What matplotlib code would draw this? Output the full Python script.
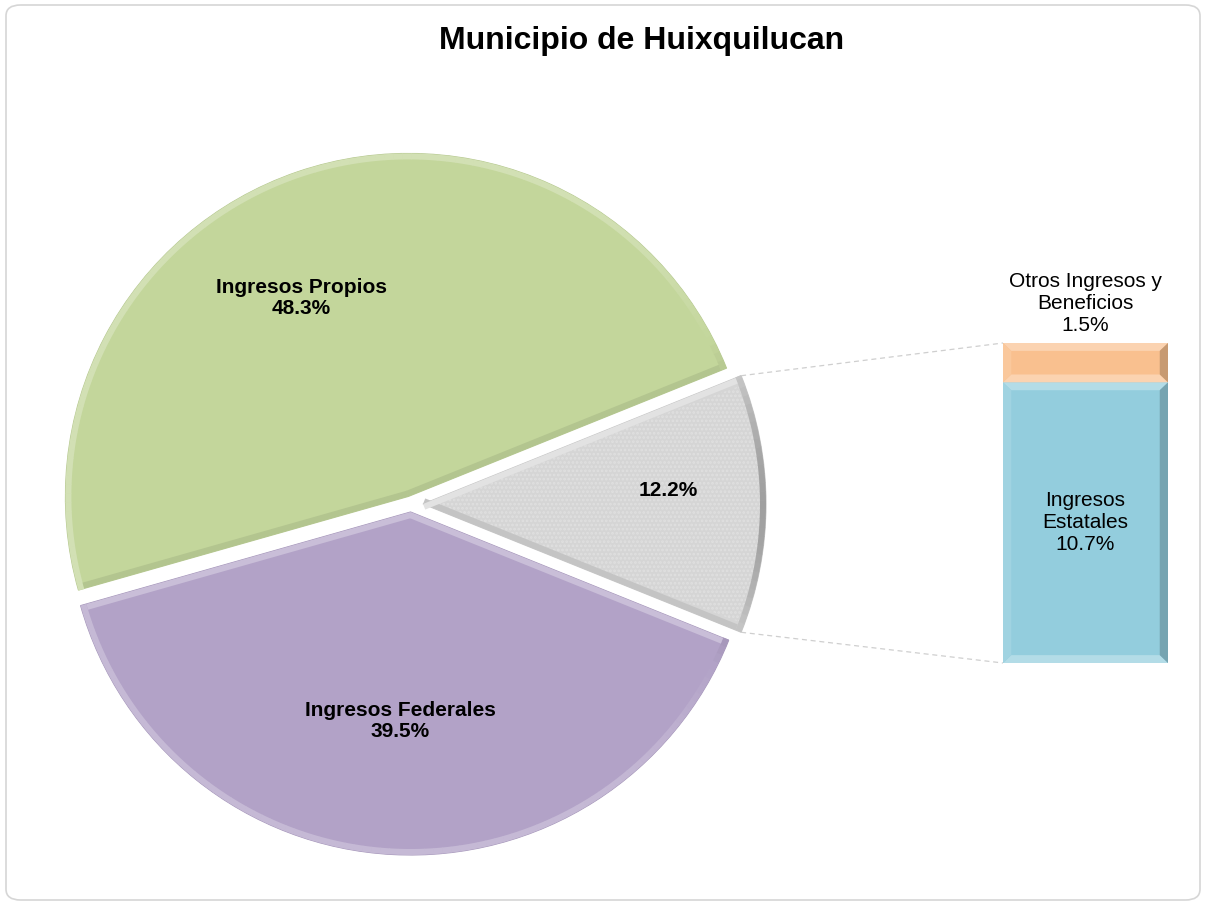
import numpy as np
import matplotlib
matplotlib.use("Agg")
import matplotlib.pyplot as plt
from matplotlib.colors import to_rgb
from matplotlib.patches import FancyBboxPatch, Polygon, Wedge

# ── Data ──────────────────────────────────────────────────────────────────────
title = "Municipio de Huixquilucan"
pie_labels = ["", "Ingresos Propios", "Ingresos Federales"]
pie_values = [12.2, 48.3, 39.5]
pie_colors = ["#D5D5D5", "#C3D69B", "#B2A2C7"]

bar_labels = ["Ingresos\nEstatales", "Otros Ingresos y\nBeneficios"]
bar_values = [10.7, 1.5]
bar_colors = ["#93CDDD", "#F9C08F"]

# ── Styling ───────────────────────────────────────────────────────────────────
plt.rcParams["font.family"] = ["Liberation Sans", "DejaVu Sans"]
plt.rcParams["hatch.linewidth"] = 1.3
FS = 15


def tint(c, k):
    r = np.array(to_rgb(c))
    return tuple(np.clip(r + (1 - r) * k, 0, 1)) if k > 0 else tuple(r * (1 + k))


def u(deg):
    return np.array([np.cos(np.radians(deg)), np.sin(np.radians(deg))])


def bevel_wedge(ax, w, c, d=6):
    """Light/dark rim along the arc and both straight edges."""
    cen = np.array(w.center)
    t1, t2 = w.theta1, w.theta2
    for a in np.arange(t1, t2, 1.5):
        b = min(a + 1.5, t2)
        cs = max(np.cos(np.radians((a + b) / 2)), 0)
        k = 0.25 - 0.5 * cs ** 6
        ax.add_patch(Wedge(cen, w.r, a, b + 0.1, width=d, fc=tint(c, k),
                           lw=0, zorder=3))
    for t, side in [(t1, 90), (t2, -90)]:
        n_in = u(t + side)
        k = 0.3 if -n_in[1] > 0 else -0.08
        p0, p1 = cen, cen + (w.r - d) * u(t)
        ax.add_patch(Polygon([p0, p1, p1 + d * n_in, p0 + d * n_in],
                             closed=True, fc=tint(c, k), lw=0, zorder=3))


W, H = 1206, 905
fig = plt.figure(figsize=(W / 100, H / 100), dpi=100)
fig.patch.set_facecolor("white")
fig.patches.append(FancyBboxPatch(
    (6 / W, 5 / H), (W - 12) / W, (H - 10) / H,
    boxstyle="round,pad=0,rounding_size=0.012", transform=fig.transFigure,
    fc="none", ec="#D6D6D6", lw=1.2, zorder=-1))

# ── Pie (data units = pixels) ─────────────────────────────────────────────────
ax = fig.add_axes([0, 0, 1, 1])
cx, cy, R = 411, H - 504, 343
start = -pie_values[0] / sum(pie_values) * 360 / 2
wedges, _ = ax.pie(pie_values, colors=pie_colors, startangle=start,
                   radius=R, center=(cx, cy), explode=[12, 8, 8],
                   wedgeprops=dict(lw=0.8))
for w, c in zip(wedges, pie_colors):
    w.set_edgecolor(tint(c, -0.06))
    bevel_wedge(ax, w, c)

g = wedges[0]
ax.add_patch(Wedge(g.center, g.r - 6, g.theta1 + 1.5, g.theta2 - 1.5, fc="none",
                   ec="#E0E0E0", lw=0, hatch="....", zorder=2))

ax.set_xlim(0, W)
ax.set_ylim(0, H)
ax.set_aspect("auto")
ax.axis("off")

ax.text(301, H - 298, f"{pie_labels[1]}\n{pie_values[1]:.1f}%", ha="center",
        va="center", fontsize=FS, fontweight="bold", linespacing=1.15, zorder=5)
ax.text(400, H - 721, f"{pie_labels[2]}\n{pie_values[2]:.1f}%", ha="center",
        va="center", fontsize=FS, fontweight="bold", linespacing=1.15, zorder=5)
ax.text(668, H - 491, f"{pie_values[0]:.1f}%", ha="center", va="center",
        fontsize=FS, fontweight="bold", zorder=5)

# ── Bar of pie ────────────────────────────────────────────────────────────────
bx = fig.add_axes([1003 / W, (H - 663) / H, 165 / W, 320 / H])
bx.set_xlim(-0.5, 0.5)
bx.set_ylim(0, sum(bar_values))
bx.axis("off")

bw, bh = 0.05, 0.3
bottom = 0
for v, c in zip(bar_values, bar_colors):
    bx.bar(0, v, width=1, bottom=bottom, color=c, lw=0)
    x0, x1, y0, y1 = -0.5, 0.5, bottom, bottom + v
    bevels = [
        ([(x0, y1), (x1, y1), (x1 - bw, y1 - bh), (x0 + bw, y1 - bh)], 0.3),
        ([(x0, y0), (x1, y0), (x1 - bw, y0 + bh), (x0 + bw, y0 + bh)], 0.3),
        ([(x0, y0), (x0, y1), (x0 + bw, y1 - bh), (x0 + bw, y0 + bh)], 0.12),
        ([(x1, y0), (x1, y1), (x1 - bw, y1 - bh), (x1 - bw, y0 + bh)], -0.2),
    ]
    for pts, k in bevels:
        bx.add_patch(Polygon(pts, closed=True, fc=tint(c, k), lw=0))
    bottom += v

bx.text(0, bar_values[0] / 2, f"{bar_labels[0]}\n{bar_values[0]:.1f}%",
        ha="center", va="center", fontsize=FS, linespacing=1.2)
bx.text(0, sum(bar_values) + 1.49, f"{bar_labels[1]}\n{bar_values[1]:.1f}%",
        ha="center", va="center", fontsize=FS, linespacing=1.2, clip_on=False)

# ── Connector lines ───────────────────────────────────────────────────────────
top_l = ax.transData.inverted().transform(bx.transData.transform((-0.5, sum(bar_values))))
bot_l = ax.transData.inverted().transform(bx.transData.transform((-0.5, 0)))
gc = np.array(g.center)
p_top = gc + g.r * u(g.theta2)
p_bot = gc + g.r * u(g.theta1)
for a, b in [(p_top, top_l), (p_bot, bot_l)]:
    ax.plot([a[0], b[0]], [a[1], b[1]], ls=(0, (4, 3)), color="#CFCFCF", lw=0.9, zorder=1)

fig.text(642 / W, 1 - 41 / H, title, ha="center", va="center",
         fontsize=23, fontweight="bold")

fig.savefig("out.png", dpi=100)
